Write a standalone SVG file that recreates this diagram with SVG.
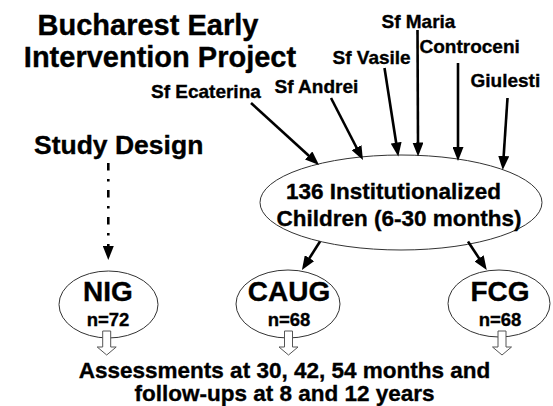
<svg xmlns="http://www.w3.org/2000/svg" width="553" height="406" viewBox="0 0 553 406">
<style>
text{font-family:"Liberation Sans",Arial,sans-serif;font-weight:bold;fill:#000;stroke:#000;stroke-width:0.35}
.t{font-size:29px;text-anchor:middle}
.sf{font-size:19px}
.big{font-size:22.5px;text-anchor:middle}
.grp{font-size:28px;text-anchor:middle}
.n{font-size:18.5px;text-anchor:middle}
.ell{fill:#fff;stroke:#333;stroke-width:1}
.arr{stroke:#000;stroke-width:2.6;fill:none;marker-end:url(#ah)}
.blk{fill:#fff;stroke:#555;stroke-width:1}
</style>
<defs>
<marker id="ah" markerUnits="userSpaceOnUse" markerWidth="14" markerHeight="11" viewBox="0 0 14 11" refX="1" refY="5.5" orient="auto">
<path d="M0,0 L14,5.5 L0,11 z" fill="#000"/>
</marker>
</defs>
<g id="title">
<text class="t" x="148" y="35">Bucharest Early</text>
<text class="t" x="160" y="67">Intervention Project</text>
</g>
<g id="study-design"><text x="34" y="154" style="font-size:26.5px">Study Design</text></g>
<g id="sf-ecaterina"><text class="sf" x="151" y="97.5">Sf Ecaterina</text></g>
<g id="sf-andrei"><text class="sf" x="274.5" y="92.5">Sf Andrei</text></g>
<g id="sf-vasile"><text class="sf" x="332.5" y="64">Sf Vasile</text></g>
<g id="sf-maria"><text class="sf" x="381.5" y="28.3">Sf Maria</text></g>
<g id="controceni"><text class="sf" x="419.5" y="53.3">Controceni</text></g>
<g id="giulesti"><text class="sf" x="470.5" y="87.3">Giulesti</text></g>
<g id="institutionalized">
<ellipse class="ell" cx="401" cy="202.5" rx="141" ry="47.5"/>
<text class="big" x="393.5" y="199">136 Institutionalized</text>
<text class="big" x="399" y="226">Children (6-30 months)</text>
</g>
<g id="nig">
<ellipse class="ell" cx="108.5" cy="304.5" rx="49.5" ry="33.5"/>
<text class="grp" x="108" y="301">NIG</text>
<text class="n" x="108" y="325.5">n=72</text>
</g>
<g id="caug">
<ellipse class="ell" cx="288" cy="304" rx="52" ry="34"/>
<text class="grp" x="289" y="301">CAUG</text>
<text class="n" x="289" y="325.5">n=68</text>
</g>
<g id="fcg">
<ellipse class="ell" cx="499" cy="303.5" rx="51" ry="33.5"/>
<text class="grp" x="500" y="301">FCG</text>
<text class="n" x="500" y="325.5">n=68</text>
</g>
<g id="connectors">
<line class="arr" x1="251" y1="103" x2="309.4" y2="156.2"/>
<line class="arr" x1="331" y1="98" x2="357" y2="148.5"/>
<line class="arr" x1="384.5" y1="68" x2="396.3" y2="143.7"/>
<line class="arr" x1="417.5" y1="30" x2="418" y2="143.5"/>
<line class="arr" x1="458" y1="63" x2="458" y2="148"/>
<line class="arr" x1="507.5" y1="98" x2="503.6" y2="157"/>
<line class="arr" x1="320" y1="241.5" x2="308.9" y2="259"/>
<line class="arr" x1="468" y1="241.5" x2="479.6" y2="259.1"/>
<line class="arr" x1="108.3" y1="163" x2="108.3" y2="247" stroke-dasharray="7.5 8.5 2.5 8.5"/>
<path class="blk" d="M102.7,331 H110.7 V347 H116.2 L106.7,355 L97.2,347 H102.7 Z"/>
<path class="blk" d="M284.5,331 H292.5 V347 H298 L288.5,355 L279,347 H284.5 Z"/>
<path class="blk" d="M498,331 H506 V347 H511.5 L502,355 L492.5,347 H498 Z"/>
</g>
<g id="assessments">
<text class="big" x="284.5" y="378">Assessments at 30, 42, 54 months and</text>
<text class="big" x="284.5" y="401">follow-ups at 8 and 12 years</text>
</g>
</svg>
